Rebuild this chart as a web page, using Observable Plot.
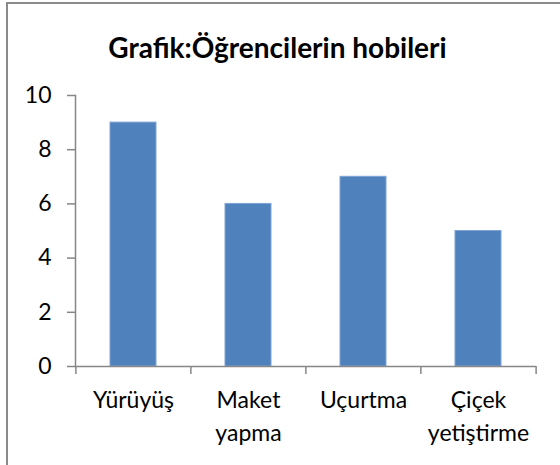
<!DOCTYPE html>
<html>
<head>
<meta charset="utf-8">
<script src="https://cdn.jsdelivr.net/npm/d3@7"></script>
<script src="https://cdn.jsdelivr.net/npm/@observablehq/plot@0.6"></script>
<style>
  html, body { margin: 0; padding: 0; background: #fff; }
  #wrap { position: relative; width: 560px; height: 465px; overflow: hidden; font-family: Lato, "Open Sans", sans-serif; background: #fff; }
  #frame { position: absolute; left: 6px; top: 2px; width: 600px; height: 500px; border-left: 2px solid #8a8a8a; border-top: 2px solid #8a8a8a; box-sizing: border-box; pointer-events: none; z-index: 2; }
  #title { position: absolute; left: 0; top: 28px; width: 555px; text-align: center; font-weight: bold; font-size: 28px; line-height: 38px; color: #000; }
  #chart { position: absolute; left: 0; top: 80px; }
</style>
</head>
<body>
<div id="wrap">
  <div id="title">Grafik:Öğrencilerin hobileri</div>
  <div id="chart"></div>
  <div id="frame"></div>
</div>
<script>
const categories = ["Yürüyüş", "Maket\nyapma", "Uçurtma", "Çiçek\nyetiştirme"];
const values = [9, 6, 7, 5];
const yTicks = [0, 2, 4, 6, 8, 10];

const data = categories.map((c, i) => ({category: c, value: values[i]}));

const width = 560, height = 385;
const marginLeft = 75, marginRight = 24, marginTop = 15, marginBottom = 99;
const step = (width - marginLeft - marginRight) / categories.length;
const gray = "#868686";

const chart = Plot.plot({
  width, height, marginLeft, marginRight, marginTop, marginBottom,
  style: {fontFamily: "Lato, 'Open Sans', sans-serif", fontSize: "23px", color: "#000", background: "transparent", overflow: "visible"},
  x: {domain: categories, paddingInner: 0.6, paddingOuter: 0.3, label: null},
  y: {domain: [0, 10], label: null},
  marks: [
    Plot.gridY(yTicks, {stroke: gray, strokeOpacity: 1, strokeWidth: 1.5, x1: 0, insetLeft: -8}),
    Plot.frame({anchor: "left", stroke: gray, strokeWidth: 1.5}),
    Plot.barY(data, {x: "category", y: "value", fill: "#4F81BD", stroke: "#7FA4D4", strokeWidth: 1}),
    Plot.axisY(yTicks, {tickSize: 8, tickPadding: 16, stroke: gray, strokeWidth: 1.5, fill: "#000", fontSize: 23, label: null}),
    Plot.axisX(categories, {tickSize: 8, dx: -step / 2, stroke: gray, strokeWidth: 1.5, fill: "none", label: null}),
    Plot.axisX([categories[categories.length - 1]], {tickSize: 8, dx: step / 2, stroke: gray, strokeWidth: 1.5, fill: "none", label: null}),
    Plot.axisX(categories, {tickSize: 0, tickPadding: 19, fill: "#000", fontSize: 23, lineHeight: 1.4, label: null}),
    Plot.ruleY([0], {stroke: gray, strokeWidth: 1.5})
  ]
});
document.getElementById("chart").appendChild(chart);
</script>
</body>
</html>
